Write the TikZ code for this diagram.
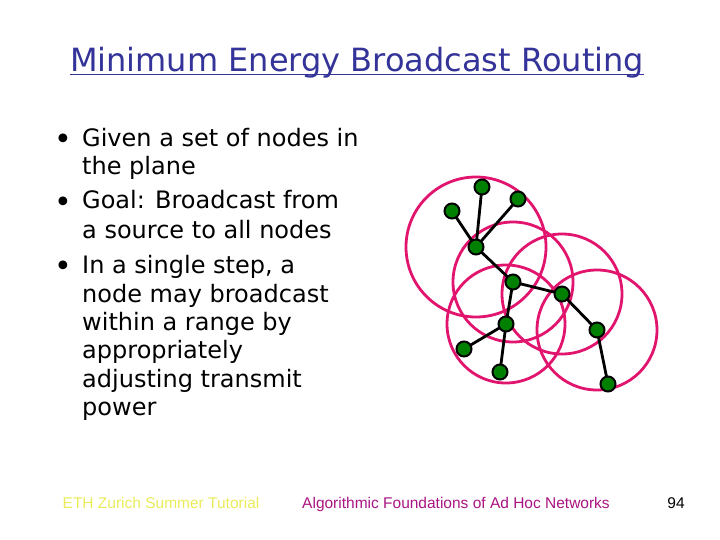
\documentclass[tikz,border=0pt]{standalone}
\usepackage{fontspec}
\setmainfont{DejaVu Sans}
\newfontfamily\footfont{Liberation Sans}
\usetikzlibrary{backgrounds}
\definecolor{titleblue}{RGB}{51,51,153}
\definecolor{rangepink}{RGB}{225,20,110}
\definecolor{nodegreen}{RGB}{0,128,0}
\definecolor{footyellow}{RGB}{235,235,90}
\definecolor{footpurple}{RGB}{170,20,130}

\begin{document}
\begin{tikzpicture}[
    x=1pt, y=-1pt,
    station/.style={circle, draw=black, line width=2pt, fill=nodegreen, minimum size=15pt, inner sep=0pt},
    link/.style={line width=2.8pt, black},
    rangering/.style={line width=2.8pt, draw=rangepink},
    bodyline/.style={anchor=base west, inner sep=0pt, font=\fontsize{24}{28}\selectfont},
    dotmark/.style={anchor=base, inner sep=0pt, font=\fontsize{30}{34}\selectfont},
    foot/.style={anchor=base, inner sep=0pt, font=\footfont\fontsize{15.5}{18}\selectfont}
]
\useasboundingbox (0,0) rectangle (720,540);

% Title
\node[anchor=base, inner sep=0pt, text=titleblue, font=\fontsize{32}{38}\selectfont] (title) at (357,72) {Minimum Energy Broadcast Routing};
\draw[titleblue, line width=1.6pt] ([yshift=-2.5pt]title.base west) -- ([yshift=-2.5pt]title.base east);

% Bullet list
\node[dotmark] (b1) at (63,150) {•};
\node[bodyline] (l1) at (82,147) {Given a set of nodes in};
\node[bodyline] (l2) at (82,175) {the plane};
\node[dotmark] (b2) at (63,212) {•};
\node[bodyline] (l3) at (82,209) {Goal: Broadcast from};
\node[bodyline] (l4) at (82,238) {a source to all nodes};
\node[dotmark] (b3) at (63,276) {•};
\node[bodyline] (l5) at (82,273) {In a single step, a};
\node[bodyline] (l6) at (82,302) {node may broadcast};
\node[bodyline] (l7) at (82,330) {within a range by};
\node[bodyline] (l8) at (82,358) {appropriately};
\node[bodyline] (l9) at (82,387) {adjusting transmit};
\node[bodyline] (l10) at (82,415) {power};

% Stations
\node[station] (top) at (482,187) {};
\node[station] (topright) at (518,199) {};
\node[station] (topleft) at (452,211) {};
\node[station] (h1) at (476,247) {};
\node[station] (h2) at (513,282) {};
\node[station] (h3) at (562,294) {};
\node[station] (h4) at (506,324) {};
\node[station] (leafleft) at (464,349) {};
\node[station] (leafbottom) at (500,372) {};
\node[station] (h5) at (597,330) {};
\node[station] (leafright) at (608,384) {};

% Transmission ranges
\begin{scope}[on background layer]
\draw[rangering] (h1) circle[radius=70pt];
\draw[rangering] (h2) circle[radius=60pt];
\draw[rangering] (h3) circle[radius=60pt];
\draw[rangering] (h4) circle[radius=59pt];
\draw[rangering] (h5) circle[radius=60pt];

% Broadcast tree
\draw[link] (h1.center) -- (top.center);
\draw[link] (h1.center) -- (topright.center);
\draw[link] (h1.center) -- (topleft.center);
\draw[link] (h1.center) -- (h2.center);
\draw[link] (h2.center) -- (h3.center);
\draw[link] (h2.center) -- (h4.center);
\draw[link] (h4.center) -- (leafleft.center);
\draw[link] (h4.center) -- (leafbottom.center);
\draw[link] (h3.center) -- (h5.center);
\draw[link] (h5.center) -- (leafright.center);
\end{scope}

% Footer
\node[foot, text=footyellow] (footleft) at (161,508) {ETH Zurich Summer Tutorial};
\node[foot, text=footpurple] (footmid) at (456,508) {Algorithmic Foundations of Ad Hoc Networks};
\node[foot] (page) at (676,508) {94};

\end{tikzpicture}
\end{document}
